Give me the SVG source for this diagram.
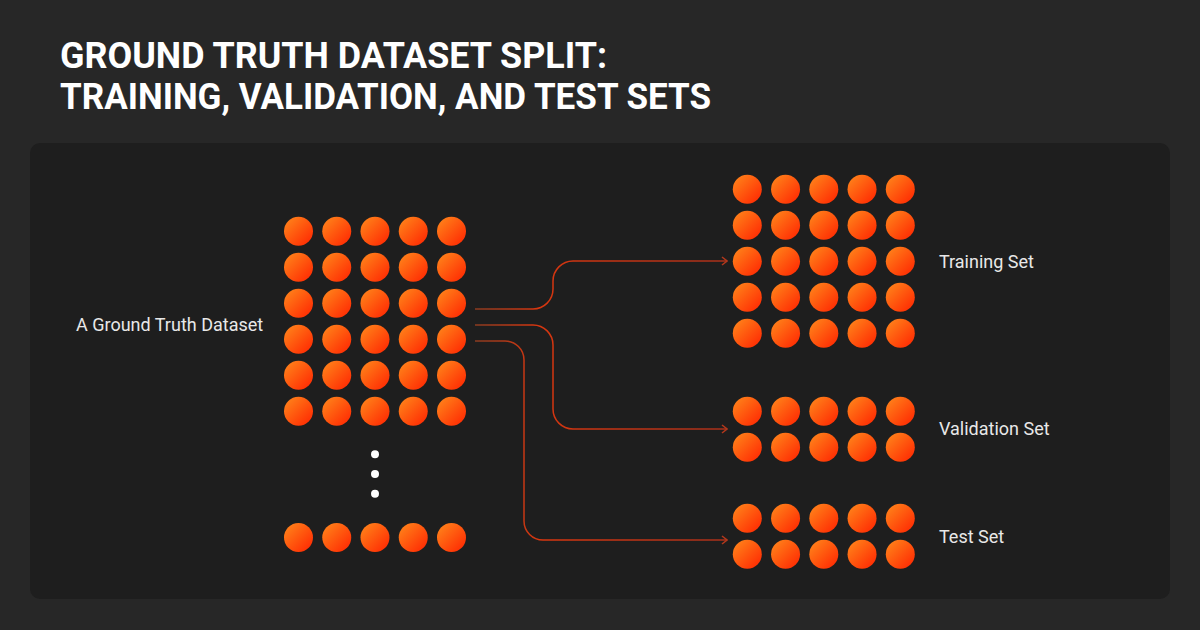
<svg xmlns="http://www.w3.org/2000/svg" width="1200" height="630" viewBox="0 0 1200 630">
<defs>
<linearGradient id="dot" x1="0" y1="0" x2="1" y2="1">
<stop offset="0" stop-color="#ff8a1c"/>
<stop offset="1" stop-color="#ff2200"/>
</linearGradient>
<linearGradient id="ln" x1="0" y1="0" x2="1" y2="0">
<stop offset="0" stop-color="#8a3b20"/>
<stop offset="0.25" stop-color="#d8360f"/>
<stop offset="1" stop-color="#a8301a"/>
</linearGradient>
<marker id="arr" viewBox="0 0 10 10" refX="9" refY="5" markerWidth="10" markerHeight="10" markerUnits="userSpaceOnUse" orient="auto">
<path d="M4 1 L9 5 L4 9" fill="none" stroke="#b4381c" stroke-width="1.5"/>
</marker>
<g id="row">
<circle cx="0" cy="0" r="14.5"/>
<circle cx="38.25" cy="0" r="14.5"/>
<circle cx="76.5" cy="0" r="14.5"/>
<circle cx="114.75" cy="0" r="14.5"/>
<circle cx="153" cy="0" r="14.5"/>
</g>
</defs>
<style>
.t{font-family:Roboto,"Liberation Sans",sans-serif;font-weight:700;font-size:36px;fill:#ffffff}
.l{font-family:Roboto,"Liberation Sans",sans-serif;font-size:18px;fill:#e8e8e8}
.c{fill:none;stroke:url(#ln);stroke-width:1.5;marker-end:url(#arr)}
.d{fill:url(#dot)}
</style>
<rect width="1200" height="630" fill="#272727"/>
<g id="title">
<text class="t" x="60" y="68" textLength="547" lengthAdjust="spacingAndGlyphs">GROUND TRUTH DATASET SPLIT:</text>
<text class="t" x="60" y="109" textLength="651" lengthAdjust="spacingAndGlyphs">TRAINING, VALIDATION, AND TEST SETS</text>
</g>
<rect id="panel" x="30" y="143" width="1140" height="456" rx="10" fill="#1e1e1e"/>
<g id="connectors">
<path class="c" d="M475 309 H533 A20 20 0 0 0 553 289 V281 A20 20 0 0 1 573 261 H727"/>
<path class="c" d="M475 325 H533 A20 20 0 0 1 553 345 V409 A20 20 0 0 0 573 429 H727"/>
<path class="c" d="M475 341 H505 A19 19 0 0 1 524 360 V521 A19 19 0 0 0 543 540 H727"/>
</g>
<g id="dataset">
<g class="d">
<use href="#row" x="298.5" y="231.3"/>
<use href="#row" x="298.5" y="267.3"/>
<use href="#row" x="298.5" y="303.3"/>
<use href="#row" x="298.5" y="339.3"/>
<use href="#row" x="298.5" y="375.3"/>
<use href="#row" x="298.5" y="411.3"/>
<use href="#row" x="298.5" y="537.5"/>
</g>
<g fill="#ffffff">
<circle cx="375" cy="454.3" r="4"/>
<circle cx="375" cy="474" r="4"/>
<circle cx="375" cy="493.7" r="4"/>
</g>
<text class="l" x="76" y="331">A Ground Truth Dataset</text>
</g>
<g id="training">
<g class="d">
<use href="#row" x="747.3" y="189.3"/>
<use href="#row" x="747.3" y="225.3"/>
<use href="#row" x="747.3" y="261.3"/>
<use href="#row" x="747.3" y="297.3"/>
<use href="#row" x="747.3" y="333.3"/>
</g>
<text class="l" x="939" y="268">Training Set</text>
</g>
<g id="validation">
<g class="d">
<use href="#row" x="747.3" y="411.3"/>
<use href="#row" x="747.3" y="447.3"/>
</g>
<text class="l" x="939" y="435">Validation Set</text>
</g>
<g id="test">
<g class="d">
<use href="#row" x="747.3" y="518.3"/>
<use href="#row" x="747.3" y="554.3"/>
</g>
<text class="l" x="939" y="543">Test Set</text>
</g>
</svg>
